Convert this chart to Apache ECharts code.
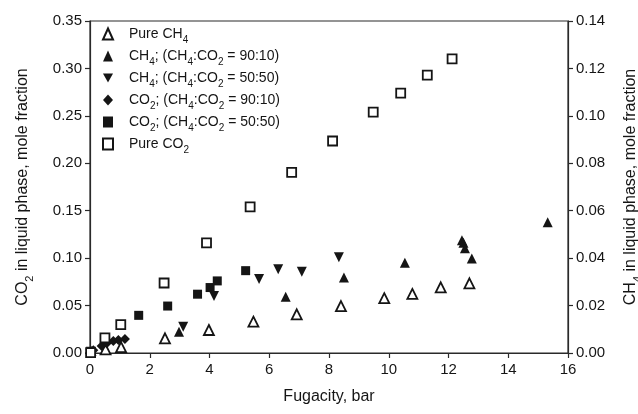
<!DOCTYPE html>
<html>
<head>
<meta charset="utf-8">
<script src="https://cdn.jsdelivr.net/npm/echarts@6/dist/echarts.min.js"></script>
<style>
html,body{margin:0;padding:0;background:#fff;}
#c{width:638px;height:414px;}
</style>
</head>
<body>
<div id="c"></div>
<script>
// Fugacity (bar) vs mole fraction in liquid phase
const xTicks = { min: 0, max: 16, interval: 2 };
const leftTicks = { min: 0, max: 0.35, interval: 0.05 };
const rightTicks = { min: 0, max: 0.14, interval: 0.02 };

// CH4 series (right axis)
const pureCH4 = [[0.52,0.0015],[1.04,0.0025],[2.51,0.0062],[3.98,0.0097],[5.47,0.0132],[6.92,0.0163],[8.40,0.0198],[9.85,0.0231],[10.79,0.0249],[11.74,0.0277],[12.70,0.0294]];
const ch4_9010 = [[0.05,0.0008],[2.98,0.0090],[6.55,0.0237],[8.50,0.0318],[10.54,0.0381],[12.45,0.0475],[12.50,0.0465],[12.55,0.0442],[12.78,0.0399],[15.32,0.0551]];
const ch4_5050 = [[0.03,0.0005],[3.12,0.0111],[4.15,0.0240],[5.66,0.0312],[6.30,0.0353],[7.09,0.0343],[8.33,0.0404]];
// CO2 series (left axis)
const co2_9010 = [[0.0,0.0],[0.11,0.003],[0.39,0.0074],[0.56,0.0102],[0.78,0.0127],[0.95,0.0137],[1.17,0.0148]];
const co2_5050 = [[0.02,0.001],[1.63,0.0397],[2.60,0.0495],[3.60,0.062],[4.02,0.069],[4.26,0.076],[5.21,0.0868]];
const pureCO2 = [[0.02,0.0005],[0.50,0.016],[1.03,0.030],[2.48,0.0738],[3.90,0.116],[5.36,0.154],[6.75,0.1905],[8.12,0.2235],[9.48,0.254],[10.40,0.274],[11.29,0.293],[12.12,0.310]];

const names = ['Pure CH4','CH4; (CH4:CO2 = 90:10)','CH4; (CH4:CO2 = 50:50)','CO2; (CH4:CO2 = 90:10)','CO2; (CH4:CO2 = 50:50)','Pure CO2'];
const legendRich = [
  '{n|Pure CH}{s|4}',
  '{n|CH}{s|4}{n|; (CH}{s|4}{n|:CO}{s|2}{n| = 90:10)}',
  '{n|CH}{s|4}{n|; (CH}{s|4}{n|:CO}{s|2}{n| = 50:50)}',
  '{n|CO}{s|2}{n|; (CH}{s|4}{n|:CO}{s|2}{n| = 90:10)}',
  '{n|CO}{s|2}{n|; (CH}{s|4}{n|:CO}{s|2}{n| = 50:50)}',
  '{n|Pure CO}{s|2}'
];

const INK = '#151515';
const FONT = 'Liberation Sans, Arial, sans-serif';
const rich = {
  n: { fontFamily: FONT, fontSize: 14, color: INK, lineHeight: 16 },
  s: { fontFamily: FONT, fontSize: 10, color: INK, lineHeight: 16, verticalAlign: 'bottom', padding: [0,0,-3,0] }
};
const DOWN_TRI = 'path://M0,0 L10,0 L5,9 Z';

const chart = echarts.init(document.getElementById('c'), null, { renderer: 'canvas' });
const axisLine = { show: true, lineStyle: { color: '#2a2a2a', width: 1.2 } };
const axisTick = { show: true, inside: false, length: 5, lineStyle: { color: '#2a2a2a', width: 1.2 } };
const axisLabelStyle = { fontFamily: FONT, fontSize: 15, color: INK };

function sc(name, data, yIdx, symbol, size, open) {
  return {
    name: name, type: 'scatter', yAxisIndex: yIdx, data: data,
    symbol: symbol, symbolSize: size,
    itemStyle: open ? { color: '#ffffff', borderColor: INK, borderWidth: 1.8, opacity: 1 } : { color: INK, opacity: 1 },
    emphasis: { disabled: true }
  };
}

chart.setOption({
  animation: false,
  backgroundColor: '#ffffff',
  grid: { left: 90, right: 70, top: 21, bottom: 61, show: true, borderColor: '#2a2a2a', borderWidth: 1.2, backgroundColor: 'transparent', outerBoundsMode: 'none', containLabel: false },
  legend: {
    orient: 'vertical', left: 97, top: 22,
    itemWidth: 10, itemHeight: 11, itemGap: 4,
    data: names,
    formatter: function (n) { return legendRich[names.indexOf(n)]; },
    textStyle: { rich: rich, padding: [0,0,0,11] },
    selectedMode: false
  },
  xAxis: {
    type: 'value', min: xTicks.min, max: xTicks.max, interval: xTicks.interval,
    name: 'Fugacity, bar', nameLocation: 'middle', nameGap: 36,
    nameTextStyle: { fontFamily: FONT, fontSize: 16, color: INK },
    axisLine: axisLine, axisTick: axisTick, splitLine: { show: false },
    axisLabel: Object.assign({ margin: 9 }, axisLabelStyle)
  },
  yAxis: [
    {
      type: 'value', position: 'left', min: leftTicks.min, max: leftTicks.max, interval: leftTicks.interval,
      name: '{n|CO}{s|2}{n| in liquid phase, mole fraction}', nameLocation: 'middle', nameGap: 58, nameRotate: 90,
      nameTextStyle: { rich: { n: { fontFamily: FONT, fontSize: 16, color: INK, lineHeight: 18 }, s: { fontFamily: FONT, fontSize: 11, color: INK, lineHeight: 18, verticalAlign: 'bottom', padding: [0,0,-3,0] } } },
      axisLine: axisLine, axisTick: axisTick, splitLine: { show: false },
      axisLabel: Object.assign({ margin: 8, formatter: function (v) { return v.toFixed(2); } }, axisLabelStyle)
    },
    {
      type: 'value', position: 'right', min: rightTicks.min, max: rightTicks.max, interval: rightTicks.interval,
      name: '{n|CH}{s|4}{n| in liquid phase, mole fraction}', nameLocation: 'middle', nameGap: 54, nameRotate: 90,
      nameTextStyle: { rich: { n: { fontFamily: FONT, fontSize: 16, color: INK, lineHeight: 18 }, s: { fontFamily: FONT, fontSize: 11, color: INK, lineHeight: 18, verticalAlign: 'bottom', padding: [0,0,-3,0] } } },
      axisLine: axisLine, axisTick: axisTick, splitLine: { show: false },
      axisLabel: Object.assign({ margin: 8, formatter: function (v) { return v.toFixed(2); } }, axisLabelStyle)
    }
  ],
  series: [
    sc(names[0], pureCH4, 1, 'triangle', 10, true),
    sc(names[1], ch4_9010, 1, 'triangle', 10, false),
    sc(names[2], ch4_5050, 1, DOWN_TRI, 10, false),
    sc(names[3], co2_9010, 0, 'diamond', 10, false),
    sc(names[4], co2_5050, 0, 'rect', 9, false),
    sc(names[5], pureCO2, 0, 'rect', 9, true)
  ]
});
</script>
</body>
</html>
